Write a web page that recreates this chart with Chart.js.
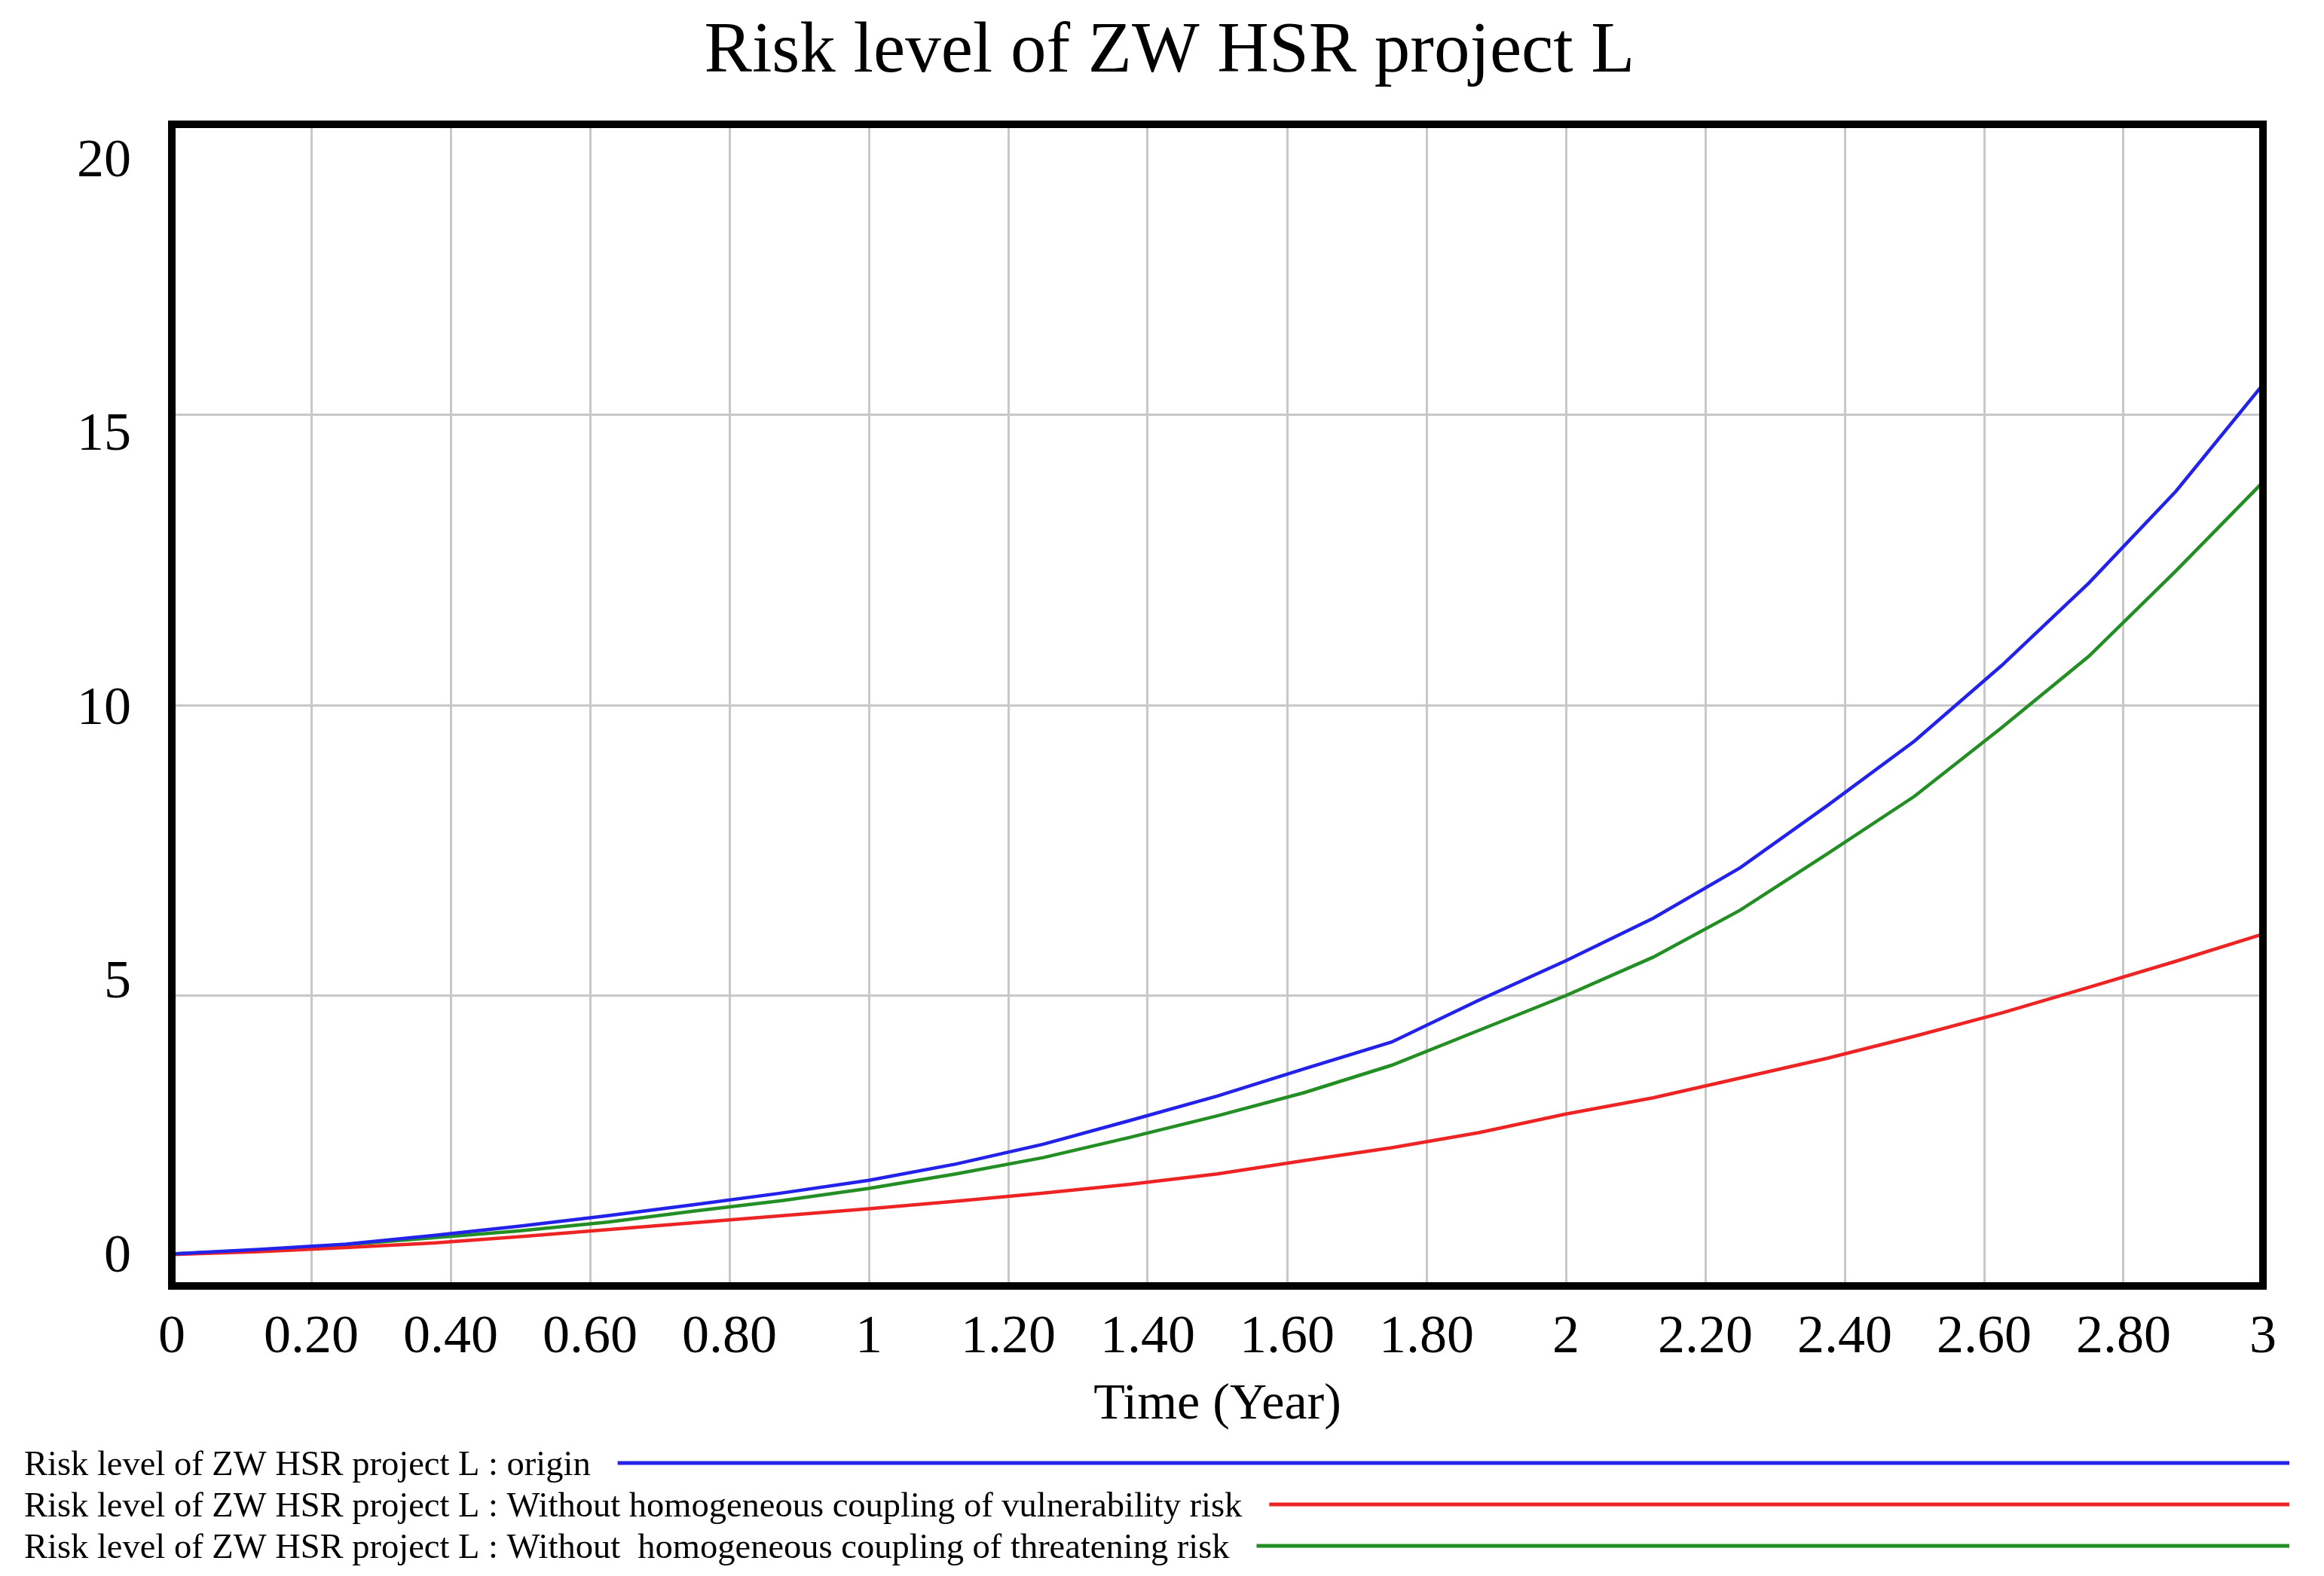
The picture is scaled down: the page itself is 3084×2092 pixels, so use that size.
<!DOCTYPE html>
<html>
<head>
<meta charset="utf-8">
<script src="https://cdn.jsdelivr.net/npm/chart.js@4.4.1/dist/chart.umd.min.js"></script>
<style>
  html, body { margin: 0; padding: 0; background: #ffffff; }
  #wrap { width: 3084px; height: 2092px; }
</style>
</head>
<body>
<div id="wrap"><canvas id="c" width="3084" height="2092"></canvas></div>
<script>
// ---------------- data ----------------
const chartTitle = "Risk level of ZW HSR project L";
const xAxisTitle = "Time (Year)";

const timeYears = [0, 0.125, 0.25, 0.375, 0.5, 0.625, 0.75, 0.875, 1,
                   1.125, 1.25, 1.375, 1.5, 1.625, 1.75, 1.875, 2,
                   2.125, 2.25, 2.375, 2.5, 2.625, 2.75, 2.875, 3];

const originRisk = [0.55, 0.63, 0.72, 0.87, 1.03, 1.21, 1.40, 1.60, 1.82,
                    2.10, 2.44, 2.85, 3.27, 3.74, 4.20, 4.92, 5.60,
                    6.33, 7.20, 8.27, 9.38, 10.68, 12.10, 13.68, 15.52];

const withoutVulnerabilityCoupling = [0.54, 0.59, 0.66, 0.74, 0.85, 0.97, 1.09, 1.21, 1.33,
                                      1.46, 1.60, 1.75, 1.93, 2.16, 2.38, 2.64, 2.96,
                                      3.24, 3.58, 3.92, 4.30, 4.70, 5.14, 5.59, 6.06];

const withoutThreateningCoupling = [0.55, 0.62, 0.71, 0.83, 0.95, 1.10, 1.29, 1.47, 1.68,
                                    1.93, 2.21, 2.56, 2.93, 3.33, 3.80, 4.40, 5.00,
                                    5.66, 6.47, 7.44, 8.43, 9.61, 10.84, 12.31, 13.84];

const seriesLabels = [
  "Risk level of ZW HSR project L : origin",
  "Risk level of ZW HSR project L : Without homogeneous coupling of vulnerability risk",
  "Risk level of ZW HSR project L : Without  homogeneous coupling of threatening risk"
];

const xTickValues = [0, 0.2, 0.4, 0.6, 0.8, 1, 1.2, 1.4, 1.6, 1.8, 2, 2.2, 2.4, 2.6, 2.8, 3];
const xTickLabels = ["0", "0.20", "0.40", "0.60", "0.80", "1", "1.20", "1.40", "1.60",
                     "1.80", "2", "2.20", "2.40", "2.60", "2.80", "3"];
const yTickValues = [0, 5, 10, 15, 20];
const yTickLabels = ["0", "5", "10", "15", "20"];

// ---------------- style ----------------
const FONT = '"Liberation Serif", "Times New Roman", serif';
const seriesColors = ["#2222ea", "#ee2424", "#238e23"];
const GRID = "#c8c8c8";

Chart.defaults.font.family = FONT;
Chart.defaults.color = "#000";

function toPoints(values) {
  return timeYears.map((t, i) => ({ x: t, y: values[i] }));
}

const plotFrame = {
  id: "plotFrame",
  afterDraw(chart) {
    const { ctx, chartArea: a } = chart;
    ctx.save();
    ctx.strokeStyle = "#000";
    ctx.lineWidth = 10;
    ctx.strokeRect(a.left, a.top, a.right - a.left, a.bottom - a.top);
    ctx.restore();
  }
};

const yLabels = {
  id: "yLabels",
  afterDraw(chart) {
    const { ctx, chartArea: a } = chart;
    const ys = chart.scales.y;
    const mid = ys.getPixelForValue(10);
    const k = 0.943;
    ctx.save();
    ctx.font = "72px " + FONT;
    ctx.fillStyle = "#000";
    ctx.textAlign = "right";
    ctx.textBaseline = "middle";
    yTickValues.forEach((v, i) => {
      const p = ys.getPixelForValue(v);
      ctx.fillText(yTickLabels[i], a.left - 54, mid + (p - mid) * k + 6);
    });
    ctx.restore();
  }
};

const bottomLegend = {
  id: "bottomLegend",
  afterDraw(chart) {
    const { ctx, chartArea: a } = chart;
    ctx.save();
    ctx.font = "46.5px " + FONT;
    ctx.textBaseline = "middle";
    ctx.textAlign = "left";
    const rowY0 = a.bottom + 239;
    const rowGap = 55;
    const textX = 32;
    const lineEnd = chart.width - 46;
    seriesLabels.forEach((lab, i) => {
      const y = rowY0 + i * rowGap;
      ctx.fillStyle = "#000";
      ctx.fillText(lab, textX, y);
      const w = ctx.measureText(lab).width;
      ctx.beginPath();
      ctx.moveTo(textX + w + 36, y - 4);
      ctx.lineTo(lineEnd, y - 4);
      ctx.strokeStyle = seriesColors[i];
      ctx.lineWidth = 5;
      ctx.stroke();
    });
    ctx.restore();
  }
};

new Chart(document.getElementById("c"), {
  type: "line",
  data: {
    datasets: [
      { label: seriesLabels[0], data: toPoints(originRisk), borderColor: seriesColors[0] },
      { label: seriesLabels[1], data: toPoints(withoutVulnerabilityCoupling), borderColor: seriesColors[1] },
      { label: seriesLabels[2], data: toPoints(withoutThreateningCoupling), borderColor: seriesColors[2] }
    ]
  },
  options: {
    responsive: false,
    devicePixelRatio: 1,
    animation: false,
    elements: {
      line: { borderWidth: 4.5, tension: 0, fill: false },
      point: { radius: 0, hoverRadius: 0 }
    },
    layout: { padding: { left: 101, right: 81, top: 0, bottom: 185 } },
    plugins: {
      legend: { display: false },
      tooltip: { enabled: false },
      title: {
        display: true,
        text: chartTitle,
        color: "#000",
        font: { family: FONT, size: 95, weight: "normal" },
        padding: { top: 13, bottom: 38 }
      }
    },
    scales: {
      x: {
        type: "linear",
        min: 0,
        max: 3,
        afterBuildTicks: (s) => { s.ticks = xTickValues.map(v => ({ value: v })); },
        afterFit: (s) => { s.height = 200; },
        ticks: {
          autoSkip: false,
          maxRotation: 0,
          minRotation: 0,
          padding: 26,
          color: "#000",
          font: { family: FONT, size: 72 },
          callback: (v, i) => xTickLabels[i]
        },
        grid: { color: GRID, lineWidth: 3, drawTicks: false },
        border: { display: false },
        title: {
          display: true,
          text: xAxisTitle,
          color: "#000",
          font: { family: FONT, size: 68 },
          padding: { top: 0, bottom: 1 }
        }
      },
      y: {
        type: "linear",
        min: 0,
        max: 20,
        afterBuildTicks: (s) => { s.ticks = yTickValues.map(v => ({ value: v })); },
        afterFit: (s) => { s.width = 127; },
        ticks: { display: false },
        grid: { color: GRID, lineWidth: 3, drawTicks: false },
        border: { display: false }
      }
    }
  },
  plugins: [plotFrame, yLabels, bottomLegend]
});
</script>
</body>
</html>
